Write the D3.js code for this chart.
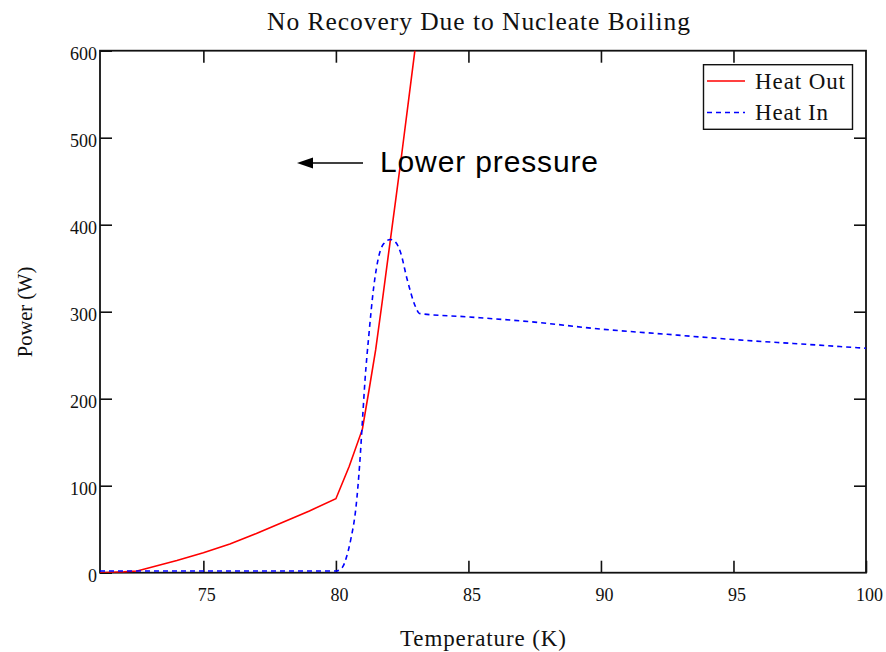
<!DOCTYPE html>
<html>
<head>
<meta charset="utf-8">
<script src="https://cdn.jsdelivr.net/npm/d3@7"></script>
<style>
  html, body { margin: 0; padding: 0; background: #fff; }
  svg { display: block; }
</style>
</head>
<body>
<svg id="chart" width="886" height="652"></svg>
<script>
// ---- Data ----
const titleText = "No Recovery Due to Nucleate Boiling";
const xLabel = "Temperature (K)";
const yLabel = "Power (W)";
const xTicks = [75, 80, 85, 90, 95, 100];
const yTicks = [0, 100, 200, 300, 400, 500, 600];
const xDomain = [71.1, 100];
const yDomain = [0, 600];

const tempOut = [71.1, 72, 72.5, 73, 74, 75, 76, 77, 78, 79, 80, 80.5, 81, 81.25, 81.5, 81.75, 82, 82.25, 82.5, 82.75, 83, 83.2];
const heatOut = [0, 1, 2, 6, 14, 23, 33, 45, 58, 71, 85, 122, 165, 210, 256, 312, 370, 427, 485, 545, 605, 650];

const tempIn = [71.1, 72, 74, 76, 78, 79.5, 80, 80.24, 80.4, 80.56, 80.76, 80.9, 81.02, 81.1, 81.24, 81.43, 81.62, 81.8, 82.06, 82.25, 82.44, 82.69, 83.0, 83.15, 85, 87.5, 90, 92.5, 95, 97.5, 100];
const heatIn = [2, 2, 2, 2, 2, 2, 2, 6, 18, 38, 76, 126, 184, 222, 272, 329, 364, 378, 383, 380, 368, 337, 306, 298, 294, 288, 280, 274, 268, 263, 258];

const seriesNames = ["Heat Out", "Heat In"];
const annotationText = "Lower pressure";

// ---- Layout ----
const svg = d3.select("#chart");
const L = 100, R = 866, T = 50.7, B = 572.7;
const x = d3.scaleLinear().domain(xDomain).range([L, R]);
const y = d3.scaleLinear().domain(yDomain).range([B, T]);
const serif = "'Liberation Serif', 'Times New Roman', serif";
const sans = "'Liberation Sans', Arial, sans-serif";

svg.append("defs").append("clipPath").attr("id", "clip")
  .append("rect").attr("x", L).attr("y", T).attr("width", R - L).attr("height", B - T);

// Title
svg.append("text").attr("x", 267).attr("y", 30)
  .attr("textLength", 423).attr("lengthAdjust", "spacing")
  .style("font-family", serif).style("font-size", "25.5px").attr("fill", "#111").text(titleText);

// Axes
const tickLen = 12;
const axisStyle = g => {
  g.select(".domain").remove();
  g.selectAll(".tick line").attr("stroke", "#111").attr("stroke-width", 1.6);
  g.selectAll(".tick text").style("font-family", serif).style("font-size", "18px").attr("fill", "#111");
};

const xb = svg.append("g").attr("transform", `translate(0,${B})`)
  .call(d3.axisBottom(x).tickValues(xTicks).tickSizeInner(-tickLen).tickSizeOuter(0).tickPadding(16).tickFormat(d3.format("d")));
axisStyle(xb);
xb.selectAll(".tick text").attr("dx", 3);

const xt = svg.append("g").attr("transform", `translate(0,${T})`)
  .call(d3.axisTop(x).tickValues(xTicks.filter(d => d < 100)).tickSizeInner(-tickLen).tickSizeOuter(0).tickFormat(""));
axisStyle(xt);

const yl = svg.append("g").attr("transform", `translate(${L},0)`)
  .call(d3.axisLeft(y).tickValues(yTicks).tickSizeInner(-tickLen).tickSizeOuter(0).tickPadding(3).tickFormat(d3.format("d")));
axisStyle(yl);
yl.selectAll(".tick text").attr("dy", "0.72em").attr("y", -4);

const yr = svg.append("g").attr("transform", `translate(${R},0)`)
  .call(d3.axisRight(y).tickValues(yTicks.filter(d => d > 0 && d < 600)).tickSizeInner(-tickLen).tickSizeOuter(0).tickFormat(""));
axisStyle(yr);

// frame
svg.append("rect").attr("x", L).attr("y", T).attr("width", R - L).attr("height", B - T)
  .attr("fill", "none").attr("stroke", "#111").attr("stroke-width", 1.8);

// Axis labels
svg.append("text").attr("x", 400).attr("y", 646)
  .attr("textLength", 166).attr("lengthAdjust", "spacing")
  .style("font-family", serif).style("font-size", "23px").attr("fill", "#111").text(xLabel);
svg.append("text").attr("transform", "translate(32,312) rotate(-90)").attr("text-anchor", "middle")
  .style("font-family", serif).style("font-size", "20.5px").attr("fill", "#111").text(yLabel);

// Lines
const plot = svg.append("g").attr("clip-path", "url(#clip)");
const outData = tempOut.map((t, i) => [t, heatOut[i]]);
const inData = tempIn.map((t, i) => [t, heatIn[i]]);

plot.append("path").datum(outData)
  .attr("d", d3.line().x(d => x(d[0])).y(d => y(d[1])))
  .attr("fill", "none").attr("stroke", "#ff0000").attr("stroke-width", 1.6);

plot.append("path").datum(inData)
  .attr("d", d3.line().x(d => x(d[0])).y(d => y(d[1])).curve(d3.curveMonotoneX))
  .attr("fill", "none").attr("stroke", "#0000ff").attr("stroke-width", 1.6)
  .attr("stroke-dasharray", "5,4");

// Annotation
const arrY = 163;
svg.append("line").attr("x1", 363).attr("x2", 308).attr("y1", arrY).attr("y2", arrY)
  .attr("stroke", "#000").attr("stroke-width", 1.6);
svg.append("path").attr("d", `M297,${arrY} L313,${arrY - 5.5} L313,${arrY + 5.5} Z`).attr("fill", "#000");
svg.append("text").attr("x", 380).attr("y", 172)
  .attr("textLength", 218).attr("lengthAdjust", "spacing")
  .style("font-family", sans).style("font-size", "30px")
  .attr("fill", "#000").text(annotationText);

// Legend
const lg = svg.append("g");
lg.append("rect").attr("x", 703.5).attr("y", 64.7).attr("width", 149).attr("height", 64.6)
  .attr("fill", "#fff").attr("stroke", "#111").attr("stroke-width", 1.4);
const colors = ["#ff0000", "#0000ff"];
const dashes = [null, "5,4"];
const legendWidths = [90, 73];
seriesNames.forEach((name, i) => {
  const cy = 81 + i * 31.5;
  lg.append("line").attr("x1", 707).attr("x2", 745).attr("y1", cy).attr("y2", cy)
    .attr("stroke", colors[i]).attr("stroke-width", 1.6).attr("stroke-dasharray", dashes[i]);
  lg.append("text").attr("x", 755).attr("y", cy + 7.5)
    .attr("textLength", legendWidths[i]).attr("lengthAdjust", "spacing")
    .style("font-family", serif).style("font-size", "23px")
    .attr("fill", "#111").text(name);
});
</script>
</body>
</html>
